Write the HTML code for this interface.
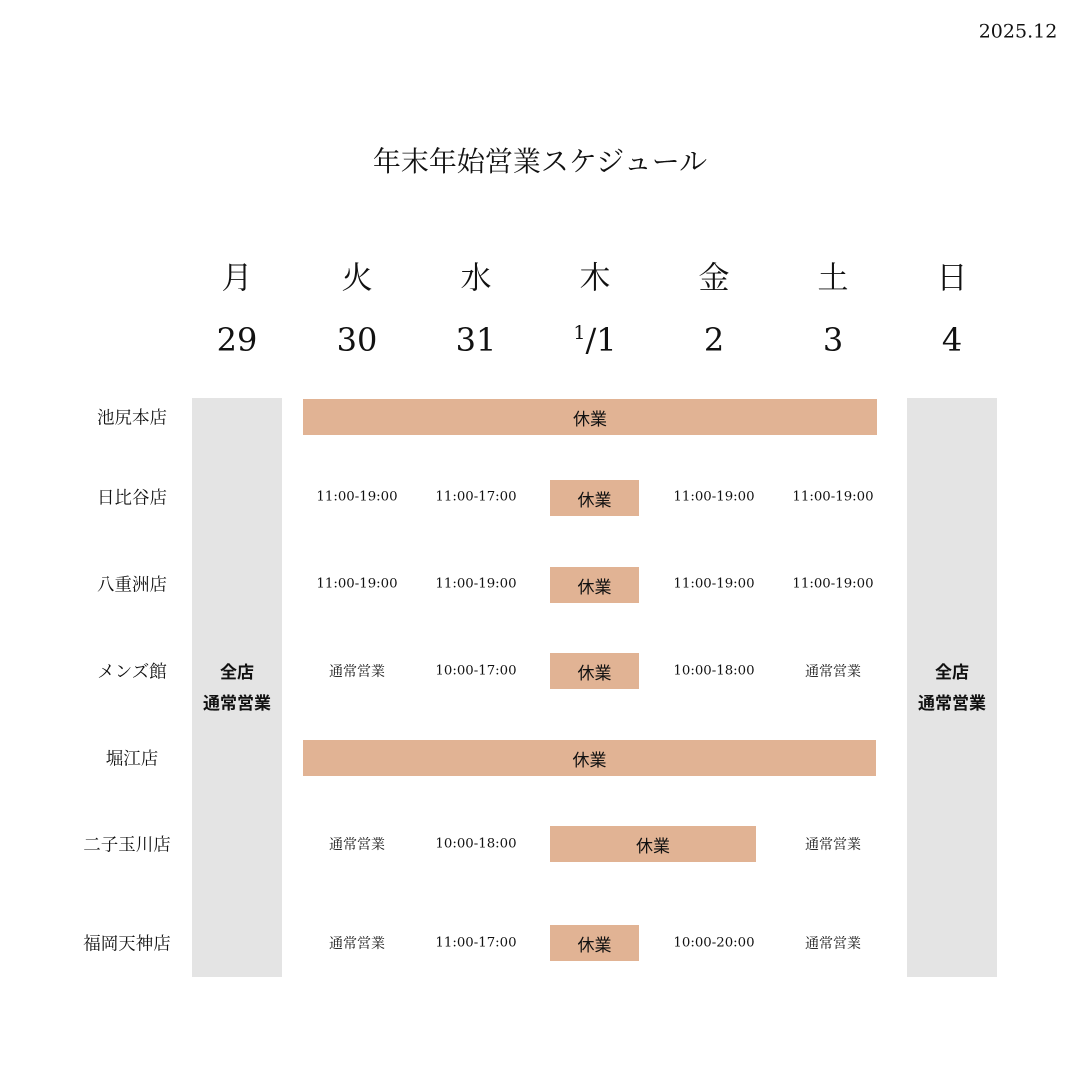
<!DOCTYPE html>
<html><head><meta charset="utf-8"><style>
body{margin:0;width:1080px;height:1080px;background:#fff;position:relative;overflow:hidden;font-family:"Liberation Serif","Noto Serif CJK JP","Noto Serif CJK SC",serif;color:#111}
.a{position:absolute;transform:translate(-50%,-50%);white-space:nowrap;line-height:1}
.g{position:absolute;background:#e4e4e4}
.o{position:absolute;background:#e1b394;display:flex;align-items:center;justify-content:center;font-size:17px;font-family:"Liberation Sans","Noto Sans CJK JP",sans-serif}
.l{font-size:17.5px;font-family:"Noto Serif CJK JP",serif}
.t{font-size:13.3px;font-family:"DejaVu Serif",serif}
.n{font-size:14px;font-family:"Noto Serif CJK JP",serif}
.d{font-size:31px}
.m{font-size:32px;font-family:"DejaVu Serif",serif}
.b{font-size:17px;font-weight:bold;line-height:31px;text-align:center;font-family:"Liberation Sans","Noto Sans CJK JP",sans-serif}
</style></head><body>
<div class="a" style="left:1018px;top:32px;font-size:19px;font-family:'DejaVu Serif',serif">2025.12</div>
<div class="a" style="left:540px;top:160px;font-size:28px;font-family:'Noto Serif CJK JP',serif">年末年始営業スケジュール</div>

<div class="a d" style="left:237px;top:278px">月</div>
<div class="a d" style="left:357px;top:278px">火</div>
<div class="a d" style="left:476px;top:278px">水</div>
<div class="a d" style="left:595px;top:278px">木</div>
<div class="a d" style="left:714px;top:278px">金</div>
<div class="a d" style="left:833px;top:278px">土</div>
<div class="a d" style="left:952px;top:278px">日</div>
<div class="a m" style="left:237px;top:340px">29</div>
<div class="a m" style="left:357px;top:340px">30</div>
<div class="a m" style="left:476px;top:340px">31</div>
<div class="a m" style="left:595px;top:340px"><sup style="font-size:19px;vertical-align:12px">1</sup>/1</div>
<div class="a m" style="left:714px;top:340px">2</div>
<div class="a m" style="left:833px;top:340px">3</div>
<div class="a m" style="left:952px;top:340px">4</div>

<div class="g" style="left:192px;top:398px;width:90px;height:579px"></div>
<div class="g" style="left:907px;top:398px;width:90px;height:579px"></div>
<div class="a b" style="left:237px;top:688px">全店<br>通常営業</div>
<div class="a b" style="left:952px;top:688px">全店<br>通常営業</div>

<div class="a l" style="left:132px;top:417px">池尻本店</div>
<div class="a l" style="left:132px;top:497px">日比谷店</div>
<div class="a l" style="left:132px;top:584px">八重洲店</div>
<div class="a l" style="left:132px;top:671px">メンズ館</div>
<div class="a l" style="left:132px;top:758px">堀江店</div>
<div class="a l" style="left:127px;top:844px">二子玉川店</div>
<div class="a l" style="left:127px;top:943px">福岡天神店</div>

<div class="o" style="left:303px;top:399px;width:574px;height:36px">休業</div>
<div class="o" style="left:303px;top:740px;width:573px;height:36px">休業</div>
<div class="o" style="left:550px;top:480px;width:89px;height:36px">休業</div>
<div class="o" style="left:550px;top:567px;width:89px;height:36px">休業</div>
<div class="o" style="left:550px;top:653px;width:89px;height:36px">休業</div>
<div class="o" style="left:550px;top:826px;width:206px;height:36px">休業</div>
<div class="o" style="left:550px;top:925px;width:89px;height:36px">休業</div>

<div class="a t" style="left:357px;top:497px">11:00-19:00</div>
<div class="a t" style="left:476px;top:497px">11:00-17:00</div>
<div class="a t" style="left:714px;top:497px">11:00-19:00</div>
<div class="a t" style="left:833px;top:497px">11:00-19:00</div>
<div class="a t" style="left:357px;top:584px">11:00-19:00</div>
<div class="a t" style="left:476px;top:584px">11:00-19:00</div>
<div class="a t" style="left:714px;top:584px">11:00-19:00</div>
<div class="a t" style="left:833px;top:584px">11:00-19:00</div>
<div class="a n" style="left:357px;top:671px">通常営業</div>
<div class="a t" style="left:476px;top:671px">10:00-17:00</div>
<div class="a t" style="left:714px;top:671px">10:00-18:00</div>
<div class="a n" style="left:833px;top:671px">通常営業</div>
<div class="a n" style="left:357px;top:844px">通常営業</div>
<div class="a t" style="left:476px;top:844px">10:00-18:00</div>
<div class="a n" style="left:833px;top:844px">通常営業</div>
<div class="a n" style="left:357px;top:943px">通常営業</div>
<div class="a t" style="left:476px;top:943px">11:00-17:00</div>
<div class="a t" style="left:714px;top:943px">10:00-20:00</div>
<div class="a n" style="left:833px;top:943px">通常営業</div>
</body></html>
